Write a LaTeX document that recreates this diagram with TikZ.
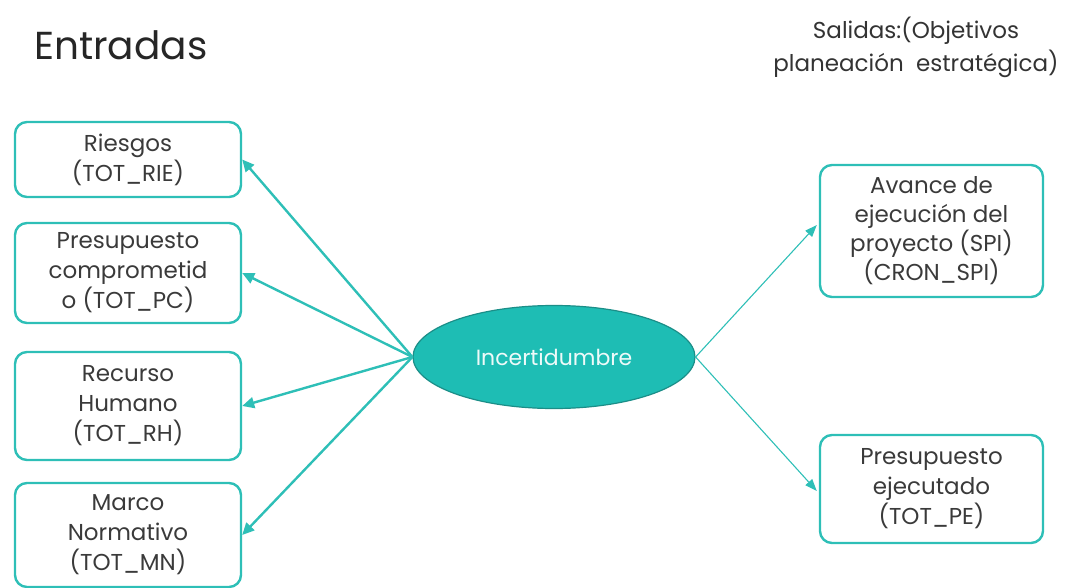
\documentclass[tikz,border=0pt]{standalone}
\usepackage{fontspec}
\setmainfont{Poppins}
\usetikzlibrary{arrows.meta,shapes.geometric}
\definecolor{teal1}{HTML}{2EBFB7}
\definecolor{tealfill}{HTML}{1EBDB4}
\definecolor{tealdark}{HTML}{1B8E88}
\definecolor{txt}{HTML}{3A3A3A}
\tikzset{
  inbox/.style={draw=teal1, line width=2.4pt, rounded corners=12pt, inner sep=0pt,
    align=center, text=txt, font=\fontsize{23}{30}\selectfont},
  center/.style={ellipse, draw=tealdark, line width=1.2pt, fill=tealfill, inner sep=0pt,
    minimum width=282pt, minimum height=103pt, text=white!92!teal1,
    font=\fontsize{22}{26}\selectfont},
  inarrow/.style={draw=teal1, line width=2.4pt, -{Triangle[length=12pt,width=11pt]}},
  outarrow/.style={draw=teal1, line width=1.1pt, -{Triangle[length=12pt,width=9pt]}},
}
\begin{document}
\begin{tikzpicture}[x=1pt,y=-1pt]
\useasboundingbox (0,0) rectangle (1067,588);

% headings
\node[anchor=west, inner sep=0pt, text=black!85, font=\fontsize{39}{44}\selectfont] (hin) at (34,45) {Entradas};
\node[align=center, text=black!80, font=\fontsize{23}{33}\selectfont] (hout) at (916,47)
  {Salidas:(Objetivos\\planeación\ \ estratégica)};

% central node
\node[center] (inc) at (554,357) {Incertidumbre};

% inputs
\node[inbox, minimum width=226pt, minimum height=75pt]  (rie) at (128,159.5) {Riesgos\\(TOT\_RIE)};
\node[inbox, minimum width=226pt, minimum height=100pt] (pc)  at (128,273)   {Presupuesto\\comprometid\\o (TOT\_PC)};
\node[inbox, minimum width=226pt, minimum height=108pt] (rh)  at (128,406)   {Recurso\\Humano\\(TOT\_RH)};
\node[inbox, minimum width=226pt, minimum height=104pt] (mn)  at (128,535)   {Marco\\Normativo\\(TOT\_MN)};

% outputs
\node[inbox, minimum width=223pt, minimum height=132pt, font=\fontsize{23}{29}\selectfont] (spi) at (931.5,231)
  {Avance de\\ejecución del\\proyecto (SPI)\\(CRON\_SPI)};
\node[inbox, minimum width=223pt, minimum height=108pt] (pe) at (931.5,489)
  {Presupuesto\\ejecutado\\(TOT\_PE)};

% connectors
\foreach \t in {rie,pc,rh,mn}
  \draw[inarrow] (inc.west) -- (\t.east);
\draw[outarrow] (inc.east) -- ([xshift=-2pt,yshift=6pt]spi.west);
\draw[outarrow] (inc.east) -- ([xshift=-2pt,yshift=-2pt]pe.west);
\end{tikzpicture}
\end{document}
